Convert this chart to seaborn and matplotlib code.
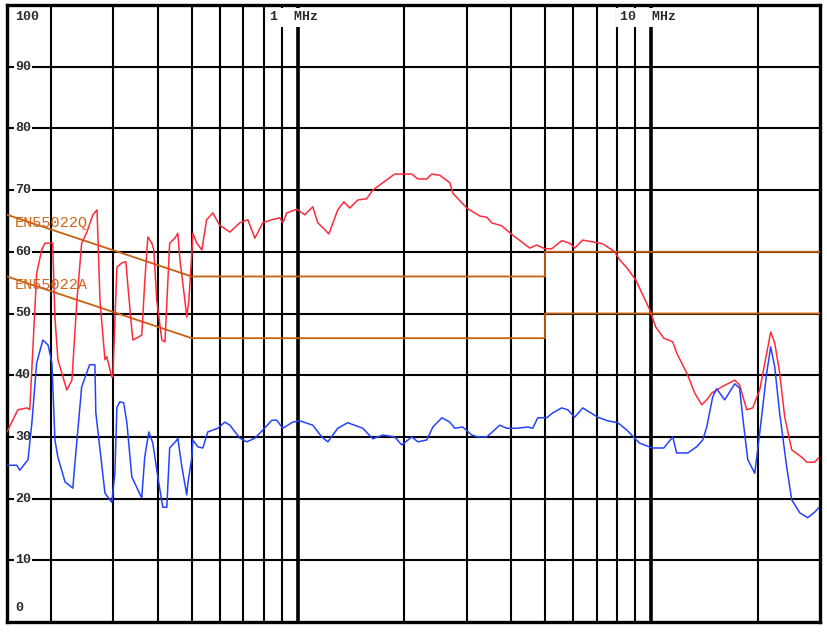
import matplotlib
matplotlib.use("Agg")
import matplotlib.pyplot as plt
from matplotlib.ticker import NullLocator
import seaborn as sns

# Measured traces, frequency in MHz, level in dBuV
red_freq = [0.150, 0.161, 0.171, 0.174, 0.182, 0.188, 0.192, 0.202, 0.205, 0.209,
            0.2215, 0.229, 0.2365, 0.244, 0.2525, 0.2625, 0.2697, 0.275, 0.284, 0.2875,
            0.297, 0.299, 0.303, 0.307, 0.317, 0.3255, 0.330, 0.3384, 0.341, 0.361,
            0.368, 0.3756, 0.3855, 0.3905, 0.398, 0.4114, 0.420, 0.428, 0.433, 0.448,
            0.4566, 0.463, 0.478, 0.484, 0.4905, 0.5003, 0.5035, 0.517, 0.534, 0.551,
            0.5736, 0.600, 0.641, 0.684, 0.7206, 0.7545, 0.7944, 0.8425, 0.888, 0.905,
            0.929, 0.9915, 1.045, 1.100, 1.137, 1.175, 1.222, 1.295, 1.347, 1.401,
            1.475, 1.564, 1.627, 1.737, 1.876, 2.098, 2.182, 2.313, 2.389, 2.518,
            2.687, 2.741, 3.002, 3.267, 3.420, 3.532, 3.771, 4.051, 4.526, 4.737,
            4.990, 5.223, 5.572, 5.875, 6.067, 6.392, 6.823, 7.281, 7.875, 8.13,
            8.524, 9.036, 9.397, 9.89, 10.285, 10.84, 11.49, 11.79, 12.67, 13.26,
            13.88, 14.34, 14.81, 15.81, 17.21, 17.77, 18.61, 19.35, 20.25, 21.2,
            21.76, 22.34, 23.06, 23.84, 24.95, 26.79, 27.5, 28.97, 29.74]
red_level = [30.8, 34.4, 34.7, 34.4, 56.5, 60.3, 61.4, 61.4, 49.4, 42.5,
             37.6, 39.2, 52.0, 61.4, 63.2, 66.0, 66.8, 52.0, 42.5, 43.0,
             39.7, 39.7, 48.5, 57.5, 58.2, 58.4, 54.3, 47.3, 45.7, 46.5,
             55.0, 62.4, 61.4, 60.3, 52.2, 45.7, 45.4, 55.4, 61.4, 62.2,
             63.0, 58.7, 52.2, 49.4, 52.0, 59.8, 63.0, 61.4, 60.3, 65.2,
             66.3, 64.3, 63.2, 64.7, 65.2, 62.2, 64.7, 65.2, 65.5, 64.7,
             66.3, 66.9, 66.0, 67.3, 64.7, 63.9, 62.9, 66.8, 68.1, 67.1,
             68.4, 68.6, 70.0, 71.2, 72.6, 72.6, 71.8, 71.8, 72.6, 72.4,
             71.2, 69.5, 67.1, 65.8, 65.6, 64.7, 64.2, 62.7, 60.6, 61.1,
             60.5, 60.5, 61.8, 61.4, 60.6, 61.9, 61.6, 61.3, 60.0, 58.7,
             57.4, 55.4, 53.3, 50.6, 47.8, 46.0, 45.4, 43.6, 40.0, 37.1,
             35.2, 36.0, 37.1, 38.1, 39.2, 38.4, 34.4, 34.7, 37.6, 43.6,
             47.0, 45.2, 40.4, 33.2, 27.9, 26.6, 25.9, 25.9, 26.6]

blue_freq = [0.150, 0.160, 0.163, 0.172, 0.1764, 0.182, 0.1895, 0.196, 0.201, 0.205,
             0.209, 0.219, 0.2304, 0.233, 0.244, 0.257, 0.266, 0.2676, 0.284, 0.293,
             0.297, 0.303, 0.307, 0.313, 0.321, 0.3276, 0.3384, 0.361, 0.368, 0.378,
             0.388, 0.4009, 0.414, 0.425, 0.433, 0.4538, 0.4566, 0.469, 0.484, 0.4875,
             0.5003, 0.5035, 0.520, 0.5375, 0.555, 0.5926, 0.6203, 0.641, 0.684, 0.716,
             0.7545, 0.7944, 0.8425, 0.8704, 0.905, 0.966, 1.011, 1.100, 1.167, 1.214,
             1.295, 1.382, 1.524, 1.627, 1.737, 1.876, 1.965, 2.098, 2.182, 2.313,
             2.407, 2.553, 2.687, 2.776, 2.924, 3.101, 3.225, 3.420, 3.723, 3.895,
             4.157, 4.467, 4.615, 4.767, 5.055, 5.257, 5.572, 5.797, 6.067, 6.392,
             7.047, 7.52, 8.027, 8.524, 9.247, 10.07, 10.84, 11.49, 11.79, 12.67,
             13.43, 13.97, 14.34, 14.91, 15.30, 16.12, 17.21, 17.77, 18.13, 18.74,
             19.61, 20.25, 21.2, 21.76, 22.34, 23.06, 24.15, 24.95, 26.3, 27.68,
             28.97, 29.74]
blue_level = [25.4, 25.4, 24.6, 26.3, 32.3, 42.0, 45.7, 44.9, 42.0, 29.5,
              26.7, 22.7, 21.7, 25.1, 38.1, 41.7, 41.7, 33.9, 20.9, 19.8,
              19.4, 24.1, 34.8, 35.7, 35.5, 32.3, 23.5, 20.1, 26.7, 30.8,
              29.0, 23.5, 18.6, 18.6, 28.2, 29.5, 29.8, 25.1, 20.6, 22.5,
              26.7, 29.5, 28.4, 28.2, 30.8, 31.4, 32.4, 31.9, 29.8, 29.2,
              29.8, 31.1, 32.7, 32.7, 31.4, 32.4, 32.6, 31.9, 30.0, 29.2,
              31.4, 32.3, 31.4, 29.7, 30.3, 30.0, 28.7, 30.0, 29.2, 29.5,
              31.6, 33.1, 32.4, 31.4, 31.6, 30.3, 30.0, 30.0, 31.9, 31.4,
              31.4, 31.6, 31.4, 33.1, 33.1, 33.9, 34.7, 34.4, 33.2, 34.7,
              33.2, 32.6, 32.3, 31.1, 29.0, 28.2, 28.2, 30.0, 27.4, 27.4,
              28.4, 29.5, 31.6, 36.5, 37.8, 36.0, 38.6, 37.9, 33.2, 26.3,
              24.1, 30.6, 40.4, 44.6, 41.3, 33.9, 25.1, 19.8, 17.7, 16.9,
              17.8, 18.5]

# EN55022 class B limits
limit_freq = [0.15, 0.5, 5, 5, 30]
limit_qp = [66, 56, 56, 60, 60]
limit_av = [56, 46, 46, 50, 50]

grid_freqs = [0.2, 0.3, 0.4, 0.5, 0.6, 0.7, 0.8, 0.9, 1, 2, 3, 4, 5, 6, 7, 8, 9, 10, 20]
level_ticks = [10, 20, 30, 40, 50, 60, 70, 80, 90]

sns.set_style("white")
plt.rcParams["font.family"] = ["Liberation Mono", "DejaVu Sans"]

fig = plt.figure(figsize=(8.27, 6.32), dpi=100)
ax = fig.add_axes([7 / 827, 10 / 632, 813 / 827, 617 / 632])
ax.set_xscale("log")
ax.set_xlim(0.15, 30)
ax.set_ylim(0, 100)

ax.set_xticks(grid_freqs)
ax.set_yticks(level_ticks)
ax.xaxis.set_minor_locator(NullLocator())
ax.grid(True, color="black", lw=1.5)
ax.set_axisbelow(True)
ax.tick_params(length=0, labelbottom=False, labelleft=False)
for f in [1, 10]:
    ax.axvline(f, color="black", lw=2.6, zorder=1)
for s in ax.spines.values():
    s.set_color("black")
    s.set_linewidth(2.4)

lim_color = "#c8600f"
sns.lineplot(x=limit_freq, y=limit_qp, ax=ax, color=lim_color, lw=1.3,
             estimator=None, sort=False, zorder=3)
sns.lineplot(x=limit_freq, y=limit_av, ax=ax, color=lim_color, lw=1.3,
             estimator=None, sort=False, zorder=3)
sns.lineplot(x=red_freq, y=red_level, ax=ax, color="#ff2a3a", lw=1.1,
             estimator=None, sort=False, zorder=4)
sns.lineplot(x=blue_freq, y=blue_level, ax=ax, color="#2443ff", lw=1.1,
             estimator=None, sort=False, zorder=4)

ax.text(0.158, 64.7, "EN55022Q", color="#d0651a", fontsize=11,
        va="center", ha="left", zorder=5)
ax.text(0.158, 54.6, "EN55022A", color="#d0651a", fontsize=11,
        va="center", ha="left", zorder=5)

box = dict(facecolor="white", edgecolor="none", pad=1)
lab = dict(fontsize=9.5, color="#2a2a2a", fontweight="bold", va="center", ha="left")
for v in level_ticks:
    ax.text(0.158, v, str(v), bbox=box, zorder=2, **lab)
ax.text(0.158, 98.0, "100", zorder=2, **lab)
ax.text(0.158, 2.3, "0", zorder=2, **lab)

ax.text(0.832, 98.0, "1  MHz", bbox=dict(facecolor="white", edgecolor="none", pad=2.5),
        zorder=2, **lab)
ax.text(8.13, 98.0, "10  MHz", bbox=dict(facecolor="white", edgecolor="none", pad=2.5),
        zorder=2, **lab)

fig.savefig("out.png", dpi=100)
